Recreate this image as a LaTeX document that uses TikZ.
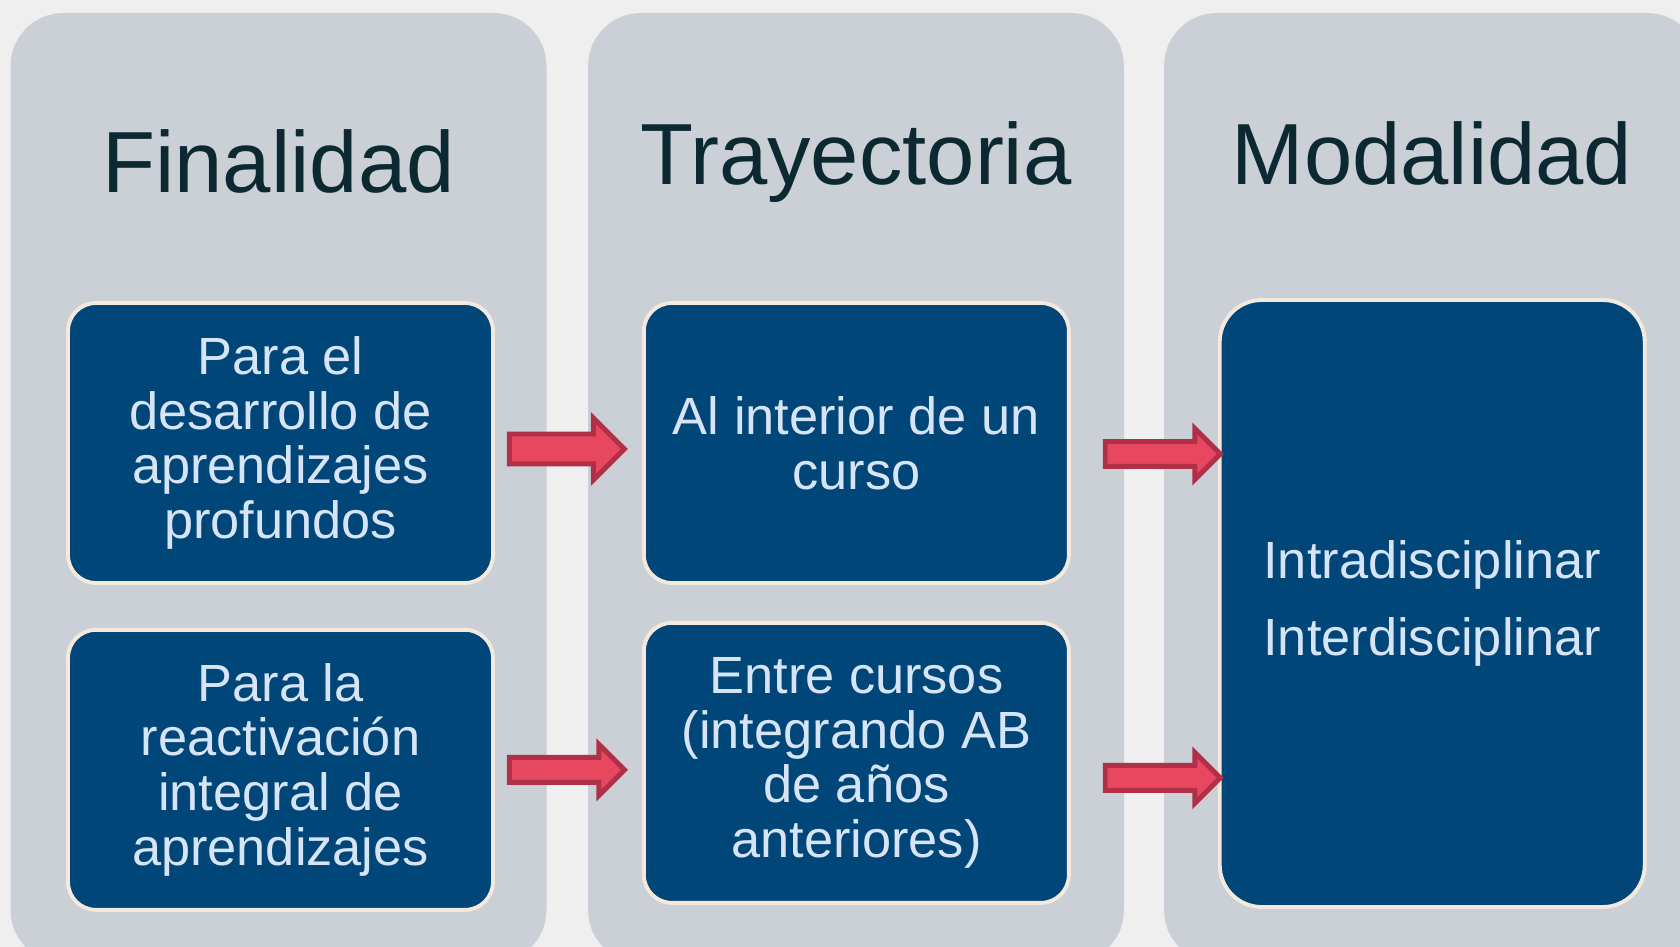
\documentclass[tikz,border=0pt]{standalone}
\usepackage{fontspec}
\setmainfont{Liberation Sans}
\usetikzlibrary{positioning, shapes.arrows}

\definecolor{paper}{RGB}{239,239,239}
\definecolor{panelgray}{RGB}{203,208,215}
\definecolor{boxblue}{RGB}{0,70,121}
\definecolor{boxedge}{RGB}{243,233,220}
\definecolor{boxtext}{RGB}{214,228,245}
\definecolor{titleink}{RGB}{12,40,48}
\definecolor{arrowfill}{RGB}{232,72,95}
\definecolor{arrowedge}{RGB}{176,48,72}

\begin{document}
\begin{tikzpicture}[node distance=0.43cm and 1.47cm,
    panel/.style={fill=panelgray, rounded corners=0.53cm, minimum width=5.36cm, minimum height=9.5cm, inner sep=0pt},
    heading/.style={text=titleink, font=\fontsize{24.7}{30}\selectfont, anchor=base},
    item/.style={fill=boxblue, draw=boxedge, line width=1.1pt, rounded corners=0.28cm, minimum width=4.25cm, minimum height=2.8cm, align=center, text=boxtext, font=\fontsize{14.9}{15.6}\selectfont, inner sep=0pt},
    push/.style={single arrow, fill=arrowfill, draw=arrowedge, line width=1.4pt, inner xsep=0pt, minimum height=1.15cm}]
    \useasboundingbox (0,0) rectangle (16.8,9.47);
    \clip (0,0) rectangle (16.8,9.47);
    \fill[paper] (0,0) rectangle (16.8,9.47);

    % Panels
    \node[panel] (pFin) at (2.785,4.59) {};
    \node[panel] (pTra) at (8.56,4.59) {};
    \node[panel] (pMod) at (14.32,4.59) {};

    % Headings
    \node[heading] (hFin) at (2.785,7.54) {Finalidad};
    \node[heading] (hTra) at (8.56,7.62) {Trayectoria};
    \node[heading] (hMod) at (14.32,7.62) {Modalidad};

    % Boxes
    \node[item] (fin1) at (2.805,5.04) {Para el\\desarrollo de\\aprendizajes\\profundos};
    \node[item, below=of fin1] (fin2) {Para la\\reactivación\\integral de\\aprendizajes};
    \node[item, right=of fin1] (tra1) {Al interior de un\\curso};
    \node[item, below=0.36cm of tra1] (tra2) {Entre cursos\\(integrando AB\\de años\\anteriores)};
    \node[item, minimum height=6.07cm, rounded corners=0.42cm, right=1.47cm of tra1.north east, anchor=north west, yshift=0.03cm] (mod) {Intradisciplinar\\[0.23cm]Interdisciplinar};

    % Arrows
    \node[push, inner ysep=0.125cm, single arrow head extend=0.16cm, right=0.12cm of fin1, yshift=-0.06cm] (a1) {};
    \node[push, inner ysep=0.10cm, single arrow head extend=0.13cm, right=0.12cm of fin2] (a2) {};
    \node[push, inner ysep=0.10cm, single arrow head extend=0.13cm, right=0.32cm of tra1, yshift=-0.11cm] (a3) {};
    \node[push, inner ysep=0.10cm, single arrow head extend=0.13cm, right=0.32cm of tra2, yshift=-0.15cm] (a4) {};
\end{tikzpicture}
\end{document}
